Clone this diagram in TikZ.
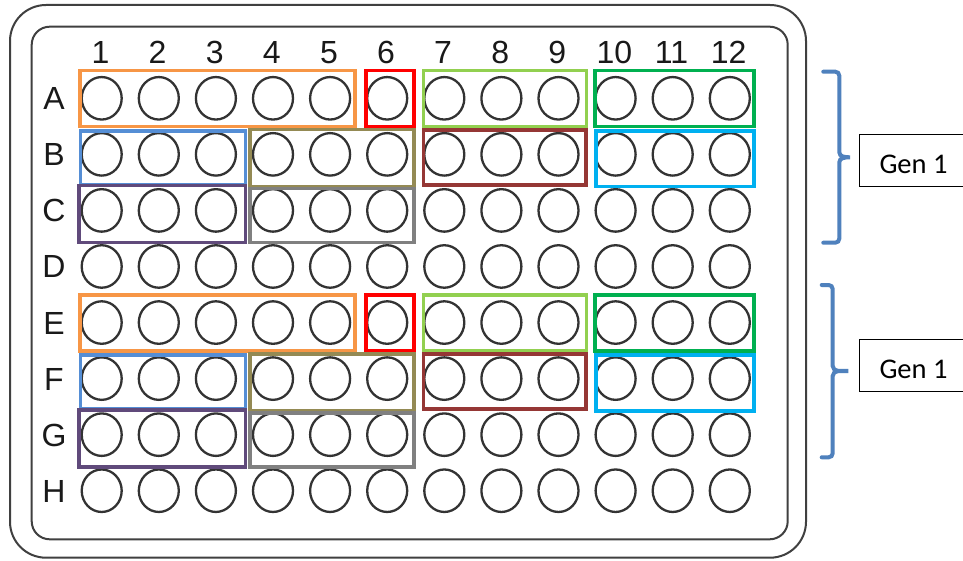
\documentclass[tikz,border=0pt]{standalone}
\usepackage{fontspec}
\setmainfont{Liberation Sans}
\newfontfamily\calib{Carlito}
\usetikzlibrary{shapes.geometric}
\definecolor{cOrange}{HTML}{F79646}
\definecolor{cRed}{HTML}{FF0000}
\definecolor{cBlue}{HTML}{558ED5}
\definecolor{cOlive}{HTML}{948A54}
\definecolor{cPurple}{HTML}{604A7B}
\definecolor{cGray}{HTML}{808080}
\definecolor{cLgreen}{HTML}{92D050}
\definecolor{cGreen}{HTML}{00B050}
\definecolor{cDred}{HTML}{953735}
\definecolor{cCyan}{HTML}{00B0F0}
\definecolor{cBrace}{HTML}{4F81BD}
\definecolor{cPlate}{HTML}{404040}
\definecolor{cWell}{HTML}{333333}
\tikzset{
  plate/.style={draw=cPlate, line width=2pt},
  well/.style={ellipse, draw=cWell, line width=2.3pt, minimum width=40pt, minimum height=42.5pt, inner sep=0pt},
  lab/.style={font=\fontsize{32}{32}\selectfont, anchor=base, inner sep=0pt, text=black!90},
  grp/.style={line width=3.6pt},
  brace/.style={draw=cBrace, line width=4pt, line cap=round},
  genbox/.style={draw=black, line width=1pt},
  genlab/.style={font=\calib\fontsize{28.5}{28.5}\selectfont, anchor=base west, inner sep=0pt}
}
\begin{document}
\begin{tikzpicture}[x=1pt,y=-1pt]
\useasboundingbox (0,0) rectangle (963,561);
\fill[white] (0,0) rectangle (963,561);
% plate
\draw[plate, rounded corners=36pt] (10,5) rectangle (806,557.7);
\draw[plate, rounded corners=18pt] (31.7,26.7) rectangle (787.7,539.3);
% column labels
\foreach \c in {1,...,12} {
  \node[lab] (col-\c) at ({100.5+57.1*(\c-1)}, 63.3) {\c};
}
% rows and wells
\foreach \r [count=\i from 0] in {A,B,C,D,E,F,G,H} {
  \node[lab] (row-\r) at (54, {98.3+56.06*\i+11.5}) {\r};
  \foreach \c in {1,...,12} {
    \node[well] (w-\r-\c) at ({101.7+57.1*(\c-1)}, {98.3+56.06*\i}) {};
  }
}
% coloured groups
\foreach \dy in {0,224.2} {
  \draw[grp, cOrange] (80,{70.7+\dy}) rectangle (355,{126.7+\dy});
  \draw[grp, cRed] (366.2,{70.7+\dy}) rectangle (413.8,{126.4+\dy});
  \draw[grp, cLgreen] (423.3,{70.7+\dy}) rectangle (586.5,{126.7+\dy});
  \draw[grp, cGreen] (595.2,{70.7+\dy}) rectangle (754,{126.7+\dy});
  \draw[grp, cBlue] (80.5,{131+\dy}) rectangle (245.5,{184.5+\dy});
  \draw[grp, cOlive] (250.2,{129.5+\dy}) rectangle (414,{187+\dy});
  \draw[grp, cDred] (423.3,{130+\dy}) rectangle (586,{185+\dy});
  \draw[grp, cCyan] (596,{131+\dy}) rectangle (754,{186.5+\dy});
  \draw[grp, cPurple] (79,{185.5+\dy}) rectangle (245.5,{242.5+\dy});
  \draw[grp, cGray] (250.2,{188.5+\dy}) rectangle (414,{242.5+\dy});
}
% braces
\draw[brace] (823.3,71.7) -- (835.3,71.7) to[out=0,in=90] (839.3,75.7)
  -- (839.3,152.3) to[out=-90,in=180] (850,157.3) to[out=180,in=90] (839.3,162.3)
  -- (839.3,238.7) to[out=-90,in=0] (835.3,242.7) -- (823.3,242.7);
\draw[brace] (821.7,285) -- (828.7,285) to[out=0,in=90] (832.7,289)
  -- (832.7,366) to[out=-90,in=180] (848.3,371) to[out=180,in=90] (832.7,376)
  -- (832.7,453.3) to[out=-90,in=0] (828.7,457.3) -- (821.7,457.3);
% Gen labels
\draw[genbox] (964,135) -| (859,186.7) -- (964,186.7);
\node[genlab] (gen-a) at (879.3,174) {Gen 1};
\draw[genbox] (964,339.3) -| (859,391) -- (964,391);
\node[genlab] (gen-b) at (879.3,378.3) {Gen 1};
\end{tikzpicture}
\end{document}
